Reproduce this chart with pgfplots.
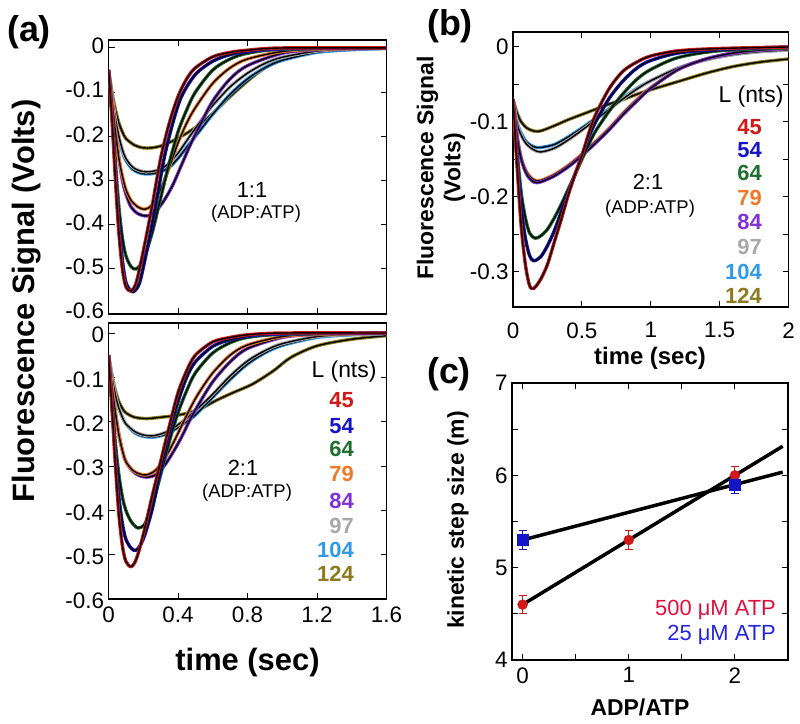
\documentclass[border=0pt]{standalone}
\usepackage{fontspec}
\setmainfont{Liberation Sans}
\usepackage{pgfplots}
\pgfplotsset{compat=1.18}
\definecolor{cA}{HTML}{D01818}
\definecolor{cB}{HTML}{1414C8}
\definecolor{cC}{HTML}{1E6E2E}
\definecolor{cD}{HTML}{F07828}
\definecolor{cE}{HTML}{8030D8}
\definecolor{cF}{HTML}{A8A8A8}
\definecolor{cG}{HTML}{2E9AE8}
\definecolor{cH}{HTML}{8C7A1E}
\definecolor{legred}{HTML}{E0103C}
\definecolor{legblue}{HTML}{2323E8}
\newcommand{\tr}[2]{%
\addplot[#1, line width=3.4bp, smooth, tension=0.5, line join=round] coordinates {#2};
\addplot[black, line width=1.4bp, smooth, tension=0.5] coordinates {#2};}
\pgfplotsset{
 base/.style={scale only axis, axis line style={line width=1.2bp},
  every tick/.style={black, line width=1bp}, tick align=inside,
  major tick length=6bp, minor tick length=6bp,
  tick label style={font=\fontsize{22.5}{24}\selectfont},
  xticklabel style={yshift=-4bp},
  yticklabel style={xshift=-1bp},
  /pgf/number format/assume math mode=true,
  /pgf/number format/fixed, /pgf/number format/precision=1,
  clip=true},
}
\begin{document}
\begin{tikzpicture}
\useasboundingbox (0,0) rectangle (800bp,-724bp);
% ---------------- (a) top ----------------
\begin{axis}[base, at={(108.5bp,-40bp)}, anchor=north west, width=278bp, height=274bp,
 xmin=0, xmax=1.6, ymin=-0.602, ymax=0.018,
 xtick={0,0.4,0.8,1.2,1.6}, xticklabels={},
 yticklabel style={yshift=2bp},
 ytick={-0.6,-0.5,-0.4,-0.3,-0.2,-0.1,0}]
\tr{cH}{(0,-0.05) (0.02,-0.10) (0.04,-0.14) (0.06,-0.17) (0.08,-0.19) (0.1,-0.205) (0.15,-0.22) (0.2,-0.226) (0.25,-0.226) (0.3,-0.222) (0.35,-0.214) (0.4,-0.204) (0.45,-0.193) (0.5,-0.18) (0.55,-0.165) (0.6,-0.148) (0.7,-0.11) (0.8,-0.075) (0.9,-0.045) (1.0,-0.026) (1.1,-0.015) (1.2,-0.008) (1.4,-0.003) (1.6,-0.001)}
\tr{cG}{(0,-0.05) (0.02,-0.11) (0.04,-0.165) (0.06,-0.205) (0.08,-0.235) (0.1,-0.255) (0.14,-0.275) (0.19,-0.284) (0.24,-0.285) (0.3,-0.28) (0.35,-0.27) (0.4,-0.25) (0.45,-0.225) (0.5,-0.2) (0.55,-0.175) (0.6,-0.15) (0.7,-0.105) (0.8,-0.07) (0.9,-0.045) (1.0,-0.028) (1.2,-0.01) (1.4,-0.004) (1.6,-0.001)}
\tr{cF}{(0,-0.05) (0.02,-0.11) (0.04,-0.16) (0.06,-0.2) (0.08,-0.23) (0.1,-0.25) (0.14,-0.27) (0.19,-0.279) (0.24,-0.28) (0.3,-0.274) (0.35,-0.26) (0.4,-0.238) (0.45,-0.21) (0.5,-0.182) (0.55,-0.155) (0.6,-0.13) (0.7,-0.088) (0.8,-0.057) (0.9,-0.035) (1.0,-0.021) (1.2,-0.007) (1.4,-0.002) (1.6,0)}
\tr{cE}{(0,-0.05) (0.02,-0.12) (0.04,-0.19) (0.06,-0.25) (0.08,-0.30) (0.1,-0.33) (0.13,-0.36) (0.17,-0.375) (0.22,-0.38) (0.27,-0.37) (0.32,-0.345) (0.37,-0.31) (0.42,-0.265) (0.47,-0.22) (0.52,-0.18) (0.6,-0.12) (0.7,-0.07) (0.8,-0.04) (1.0,-0.012) (1.2,-0.004) (1.6,0)}
\tr{cD}{(0,-0.05) (0.02,-0.12) (0.04,-0.19) (0.06,-0.25) (0.08,-0.29) (0.1,-0.32) (0.13,-0.345) (0.17,-0.36) (0.21,-0.365) (0.25,-0.355) (0.3,-0.32) (0.35,-0.27) (0.4,-0.215) (0.45,-0.17) (0.5,-0.135) (0.6,-0.08) (0.7,-0.045) (0.8,-0.025) (1.0,-0.008) (1.2,-0.003) (1.6,0)}
\tr{cC}{(0,-0.05) (0.02,-0.14) (0.04,-0.26) (0.06,-0.36) (0.08,-0.43) (0.1,-0.47) (0.13,-0.495) (0.16,-0.50) (0.2,-0.48) (0.25,-0.42) (0.3,-0.34) (0.35,-0.26) (0.4,-0.19) (0.45,-0.14) (0.5,-0.10) (0.6,-0.05) (0.7,-0.025) (0.8,-0.012) (1.0,-0.003) (1.6,0)}
\tr{cB}{(0,-0.05) (0.02,-0.15) (0.04,-0.28) (0.06,-0.40) (0.08,-0.48) (0.1,-0.53) (0.13,-0.55) (0.15,-0.55) (0.18,-0.53) (0.22,-0.46) (0.27,-0.36) (0.32,-0.25) (0.37,-0.17) (0.42,-0.11) (0.5,-0.06) (0.6,-0.03) (0.7,-0.015) (0.8,-0.008) (1.0,-0.002) (1.6,0)}
\tr{cA}{(0,-0.05) (0.02,-0.16) (0.04,-0.30) (0.06,-0.42) (0.08,-0.50) (0.1,-0.54) (0.13,-0.55) (0.16,-0.53) (0.2,-0.46) (0.25,-0.36) (0.3,-0.25) (0.35,-0.17) (0.4,-0.11) (0.45,-0.07) (0.5,-0.045) (0.6,-0.02) (0.7,-0.01) (0.8,-0.005) (1.0,0) (1.6,0)}
\end{axis}
% ---------------- (a) bottom ----------------
\begin{axis}[base, at={(108.5bp,-323bp)}, anchor=north west, width=278bp, height=276bp,
 xmin=0, xmax=1.6, ymin=-0.6, ymax=0.0226,
 xtick={0,0.4,0.8,1.2,1.6},
 yticklabel style={yshift=-2bp},
 ytick={-0.6,-0.5,-0.4,-0.3,-0.2,-0.1,0}]
\tr{cH}{(0,-0.05) (0.02,-0.095) (0.04,-0.13) (0.06,-0.155) (0.08,-0.17) (0.1,-0.18) (0.15,-0.19) (0.22,-0.193) (0.3,-0.19) (0.39,-0.186) (0.46,-0.18) (0.53,-0.171) (0.62,-0.152) (0.72,-0.134) (0.83,-0.115) (0.95,-0.085) (1.05,-0.055) (1.2,-0.029) (1.4,-0.014) (1.6,-0.006)}
\tr{cG}{(0,-0.05) (0.02,-0.10) (0.04,-0.14) (0.06,-0.17) (0.08,-0.19) (0.1,-0.205) (0.15,-0.225) (0.2,-0.233) (0.25,-0.235) (0.3,-0.232) (0.35,-0.225) (0.4,-0.213) (0.45,-0.2) (0.5,-0.185) (0.55,-0.165) (0.6,-0.145) (0.7,-0.105) (0.8,-0.07) (0.9,-0.045) (1.0,-0.028) (1.2,-0.01) (1.4,-0.004) (1.6,-0.001)}
\tr{cF}{(0,-0.05) (0.02,-0.10) (0.04,-0.14) (0.06,-0.17) (0.08,-0.19) (0.1,-0.205) (0.15,-0.222) (0.2,-0.23) (0.25,-0.232) (0.3,-0.228) (0.35,-0.22) (0.4,-0.207) (0.45,-0.192) (0.5,-0.175) (0.55,-0.157) (0.6,-0.138) (0.7,-0.097) (0.8,-0.063) (0.9,-0.04) (1.0,-0.024) (1.2,-0.008) (1.4,-0.003) (1.6,-0.001)}
\tr{cE}{(0,-0.05) (0.02,-0.12) (0.04,-0.18) (0.06,-0.23) (0.08,-0.265) (0.1,-0.29) (0.14,-0.312) (0.18,-0.322) (0.22,-0.325) (0.27,-0.32) (0.32,-0.30) (0.37,-0.27) (0.42,-0.235) (0.47,-0.195) (0.52,-0.16) (0.6,-0.11) (0.7,-0.065) (0.8,-0.035) (1.0,-0.01) (1.2,-0.003) (1.6,0)}
\tr{cD}{(0,-0.05) (0.02,-0.12) (0.04,-0.18) (0.06,-0.23) (0.08,-0.265) (0.1,-0.29) (0.14,-0.31) (0.18,-0.318) (0.22,-0.32) (0.27,-0.31) (0.32,-0.285) (0.37,-0.25) (0.42,-0.21) (0.47,-0.17) (0.52,-0.135) (0.6,-0.09) (0.7,-0.05) (0.8,-0.027) (1.0,-0.008) (1.2,-0.003) (1.6,0)}
\tr{cC}{(0,-0.05) (0.02,-0.15) (0.04,-0.25) (0.06,-0.32) (0.08,-0.37) (0.1,-0.40) (0.13,-0.425) (0.17,-0.44) (0.21,-0.43) (0.25,-0.39) (0.3,-0.32) (0.35,-0.245) (0.4,-0.18) (0.45,-0.13) (0.5,-0.09) (0.6,-0.045) (0.7,-0.022) (0.8,-0.01) (1.0,-0.003) (1.6,0)}
\tr{cB}{(0,-0.05) (0.02,-0.16) (0.04,-0.28) (0.06,-0.37) (0.08,-0.43) (0.1,-0.465) (0.13,-0.485) (0.16,-0.49) (0.2,-0.465) (0.25,-0.40) (0.3,-0.31) (0.35,-0.225) (0.4,-0.155) (0.45,-0.10) (0.5,-0.065) (0.6,-0.03) (0.7,-0.015) (0.8,-0.007) (1.0,-0.002) (1.6,0)}
\tr{cA}{(0,-0.05) (0.02,-0.17) (0.04,-0.30) (0.06,-0.41) (0.08,-0.48) (0.1,-0.515) (0.13,-0.527) (0.16,-0.51) (0.2,-0.455) (0.25,-0.37) (0.3,-0.29) (0.35,-0.21) (0.4,-0.135) (0.45,-0.085) (0.5,-0.05) (0.6,-0.02) (0.7,-0.01) (0.8,-0.004) (1.0,0) (1.6,0)}
\end{axis}
% ---------------- (b) ----------------
\begin{axis}[base, at={(513bp,-32bp)}, anchor=north west, width=275.5bp, height=275bp,
 xmin=0, xmax=2, ymin=-0.3467, ymax=0.02,
 xtick={0,0.5,1,1.5,2}, xticklabel style={yshift=-8bp},
 ytick={-0.3,-0.2,-0.1,0}, minor ytick={-0.25,-0.15,-0.05}]
\tr{cH}{(0,-0.07) (0.03,-0.088) (0.06,-0.1) (0.1,-0.108) (0.15,-0.112) (0.2,-0.112) (0.3,-0.105) (0.4,-0.097) (0.5,-0.09) (0.6,-0.083) (0.7,-0.076) (0.8,-0.07) (0.9,-0.063) (1.0,-0.057) (1.2,-0.046) (1.4,-0.035) (1.6,-0.026) (1.8,-0.02) (2.0,-0.016)}
\tr{cG}{(0,-0.07) (0.03,-0.1) (0.06,-0.115) (0.1,-0.127) (0.15,-0.133) (0.2,-0.134) (0.3,-0.13) (0.4,-0.12) (0.5,-0.108) (0.6,-0.095) (0.7,-0.082) (0.8,-0.068) (0.9,-0.055) (1.0,-0.045) (1.2,-0.028) (1.4,-0.017) (1.6,-0.01) (1.8,-0.006) (2.0,-0.004)}
\tr{cF}{(0,-0.07) (0.03,-0.102) (0.06,-0.118) (0.1,-0.13) (0.15,-0.137) (0.2,-0.14) (0.3,-0.135) (0.4,-0.124) (0.5,-0.111) (0.6,-0.097) (0.7,-0.083) (0.8,-0.069) (0.9,-0.056) (1.0,-0.045) (1.2,-0.028) (1.4,-0.017) (1.6,-0.01) (1.8,-0.006) (2.0,-0.004)}
\tr{cD}{(0,-0.07) (0.03,-0.118) (0.06,-0.148) (0.1,-0.167) (0.15,-0.177) (0.2,-0.178) (0.3,-0.17) (0.4,-0.158) (0.5,-0.143) (0.6,-0.126) (0.7,-0.108) (0.8,-0.088) (0.9,-0.07) (1.0,-0.054) (1.2,-0.03) (1.4,-0.016) (1.6,-0.008) (1.8,-0.004) (2.0,-0.002)}
\tr{cE}{(0,-0.07) (0.03,-0.12) (0.06,-0.15) (0.1,-0.17) (0.15,-0.18) (0.2,-0.18) (0.3,-0.172) (0.4,-0.16) (0.5,-0.145) (0.6,-0.128) (0.7,-0.11) (0.8,-0.09) (0.9,-0.072) (1.0,-0.055) (1.2,-0.03) (1.4,-0.016) (1.6,-0.008) (1.8,-0.004) (2.0,-0.002)}
\tr{cC}{(0,-0.07) (0.03,-0.14) (0.06,-0.195) (0.09,-0.228) (0.12,-0.248) (0.16,-0.255) (0.2,-0.252) (0.25,-0.243) (0.3,-0.228) (0.35,-0.21) (0.4,-0.19) (0.45,-0.17) (0.5,-0.15) (0.55,-0.13) (0.6,-0.112) (0.7,-0.085) (0.8,-0.062) (0.9,-0.043) (1.0,-0.03) (1.2,-0.014) (1.5,-0.005) (2.0,-0.001)}
\tr{cB}{(0,-0.07) (0.03,-0.15) (0.06,-0.215) (0.09,-0.255) (0.12,-0.278) (0.15,-0.285) (0.2,-0.28) (0.25,-0.265) (0.3,-0.245) (0.35,-0.22) (0.4,-0.195) (0.45,-0.17) (0.5,-0.145) (0.55,-0.12) (0.6,-0.1) (0.7,-0.068) (0.8,-0.045) (0.9,-0.028) (1.0,-0.018) (1.2,-0.008) (1.5,-0.003) (2.0,0)}
\tr{cA}{(0,-0.07) (0.03,-0.16) (0.06,-0.24) (0.09,-0.29) (0.12,-0.318) (0.15,-0.322) (0.2,-0.31) (0.25,-0.29) (0.3,-0.26) (0.35,-0.23) (0.4,-0.198) (0.45,-0.17) (0.5,-0.145) (0.55,-0.115) (0.6,-0.09) (0.7,-0.055) (0.8,-0.032) (0.9,-0.02) (1.0,-0.012) (1.2,-0.005) (1.5,-0.002) (2.0,0)}
\end{axis}
% ---------------- (c) ----------------
\begin{axis}[base, at={(512bp,-383bp)}, anchor=north west, width=276bp, height=277bp,
 xmin=-0.1, xmax=2.5, ymin=4, ymax=7,
 xtick={0,1,2}, minor xtick={0.5,1.5},
 ytick={4,5,6,7}, minor ytick={4.5,5.5,6.5},
 /pgf/number format/precision=0]
\addplot[black, line width=3.5bp] coordinates {(-0.03,4.579) (2.45,6.315)};
\addplot[black, line width=3.5bp] coordinates {(-0.03,5.291) (2.45,6.035)};
\addplot[only marks, mark=*, mark size=5bp, color=cA,
 error bars/.cd, y dir=both, y explicit,
 error bar style={line width=1bp, cA}, error mark options={rotate=90, mark size=4bp, line width=1bp, cA}]
 coordinates {(0,4.6) +- (0,0.1) (1,5.3) +- (0,0.1) (2,6.0) +- (0,0.1)};
\addplot[only marks, mark=square*, mark size=5.5bp, color=cB,
 error bars/.cd, y dir=both, y explicit,
 error bar style={line width=1bp, cB}, error mark options={rotate=90, mark size=4bp, line width=1bp, cB}]
 coordinates {(0,5.3) +- (0,0.1) (2,5.9) +- (0,0.1)};
\end{axis}
% ---------------- texts ----------------
\node[font=\bfseries\fontsize{36}{36}\selectfont, inner sep=0] at (29bp,-32bp) {(a)};
\node[font=\bfseries\fontsize{36}{36}\selectfont, inner sep=0] at (450bp,-26bp) {(b)};
\node[font=\bfseries\fontsize{36}{36}\selectfont, inner sep=0] at (449bp,-374bp) {(c)};
\node[rotate=90, font=\bfseries\fontsize{31}{31}\selectfont, inner sep=0] at (27bp,-301bp) {Fluorescence Signal (Volts)};
\node[font=\bfseries\fontsize{31}{31}\selectfont, inner sep=0] at (247.5bp,-663bp) {time (sec)};
\node[rotate=90, align=center, font=\bfseries\fontsize{23}{27}\selectfont, inner sep=0] at (441bp,-168bp) {Fluorescence Signal\\(Volts)};
\node[font=\bfseries\fontsize{24}{24}\selectfont, inner sep=0] at (650bp,-358bp) {time (sec)};
\node[rotate=90, font=\bfseries\fontsize{23}{23}\selectfont, inner sep=0] at (458bp,-520bp) {kinetic step size (m)};
\node[font=\bfseries\fontsize{23}{23}\selectfont, inner sep=0] at (640bp,-707bp) {ADP/ATP};
% ratio labels
\node[font=\fontsize{22}{22}\selectfont, inner sep=0] at (252bp,-190bp) {1:1};
\node[font=\fontsize{18.5}{18.5}\selectfont, inner sep=0] at (256bp,-214bp) {(ADP:ATP)};
\node[font=\fontsize{22}{22}\selectfont, inner sep=0] at (243bp,-468bp) {2:1};
\node[font=\fontsize{18.5}{18.5}\selectfont, inner sep=0] at (247bp,-493bp) {(ADP:ATP)};
\node[font=\fontsize{22}{22}\selectfont, inner sep=0] at (648bp,-182bp) {2:1};
\node[font=\fontsize{18.5}{18.5}\selectfont, inner sep=0] at (650bp,-209bp) {(ADP:ATP)};
% L (nts) lists
\node[font=\fontsize{23}{23}\selectfont, inner sep=0] at (344bp,-372bp) {L (nts)};
\node[font=\fontsize{23}{23}\selectfont, inner sep=0] at (751bp,-97bp) {L (nts)};
\foreach \lab/\col/\ya/\yb in {45/cA/400/127, 54/cB/426/150, 64/cC/449/173, 79/cD/474/198, 84/cE/501/222, 97/cF/526/247, 104/cG/550/272, 124/cH/574/296}{
 \node[anchor=east, font=\bfseries\fontsize{22}{22}\selectfont, text=\col, inner sep=0] at (354bp,-\ya bp) {\lab};
 \node[anchor=east, font=\bfseries\fontsize{22}{22}\selectfont, text=\col, inner sep=0] at (762bp,-\yb bp) {\lab};
}
\node[anchor=east, font=\fontsize{22}{22}\selectfont, text=legred, inner sep=0] at (776bp,-610bp) {500 μM ATP};
\node[anchor=east, font=\fontsize{22}{22}\selectfont, text=legblue, inner sep=0] at (776bp,-635bp) {25 μM ATP};
\end{tikzpicture}
\end{document}
